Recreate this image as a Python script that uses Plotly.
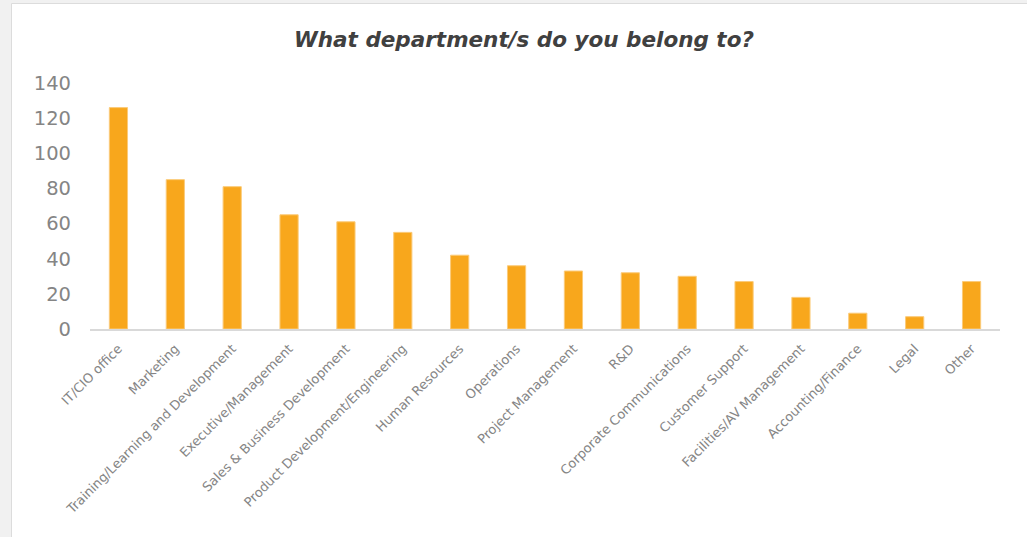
import plotly.graph_objects as go

categories = [
    "IT/CIO office", "Marketing", "Training/Learning and Development",
    "Executive/Management", "Sales & Business Development",
    "Product Development/Engineering", "Human Resources", "Operations",
    "Project Management", "R&D", "Corporate Communications",
    "Customer Support", "Facilities/AV Management", "Accounting/Finance",
    "Legal", "Other",
]
counts = [126, 85, 81, 65, 61, 55, 42, 36, 33, 32, 30, 27, 18, 9, 7, 27]
y_ticks = [0, 20, 40, 60, 80, 100, 120, 140]
title_text = "What department/s do you belong to?"

W, H = 1027, 537
L, R, T, B = 90, 27, 83, 208
pw = W - L - R
ph = H - T - B

def px_x(p):
    return (p - L) / pw

def px_y(p):
    return (H - B - p) / ph

fig = go.Figure(
    go.Bar(
        x=categories,
        y=counts,
        marker=dict(color="#F8A71C", line=dict(color="#FBCB7A", width=1)),
        hoverinfo="x+y",
    )
)

fig.update_layout(
    width=W,
    height=H,
    margin=dict(l=L, r=R, t=T, b=B),
    paper_bgcolor="#f1f1f1",
    plot_bgcolor="white",
    bargap=0.68,
    showlegend=False,
    title=dict(
        text=title_text,
        x=524 / W,
        xanchor="center",
        y=1 - 39 / H,
        yanchor="middle",
        font=dict(family="DejaVu Sans", size=21.5, color="#404040",
                  weight="bold", style="italic"),
    ),
    shapes=[
        dict(
            type="rect", xref="paper", yref="paper", layer="below",
            x0=px_x(11.5), x1=px_x(1035), y0=px_y(545), y1=px_y(3.5),
            fillcolor="white", line=dict(color="#dcdcdc", width=1),
        )
    ],
)

fig.update_xaxes(
    showline=True, linecolor="#d9d9d9", linewidth=2,
    showgrid=False, ticks="", tickangle=-45,
    tickfont=dict(family="DejaVu Sans", size=13, color="#858585"),
    range=[-0.5, 15.5],
    ticklabelstandoff=5,
)
fig.update_yaxes(
    range=[0, 140], tickvals=y_ticks, showgrid=False, zeroline=False,
    showline=False, ticks="",
    tickfont=dict(family="DejaVu Sans", size=19.5, color="#858585"),
    ticklabelstandoff=18,
)

fig.write_html("out.html")
